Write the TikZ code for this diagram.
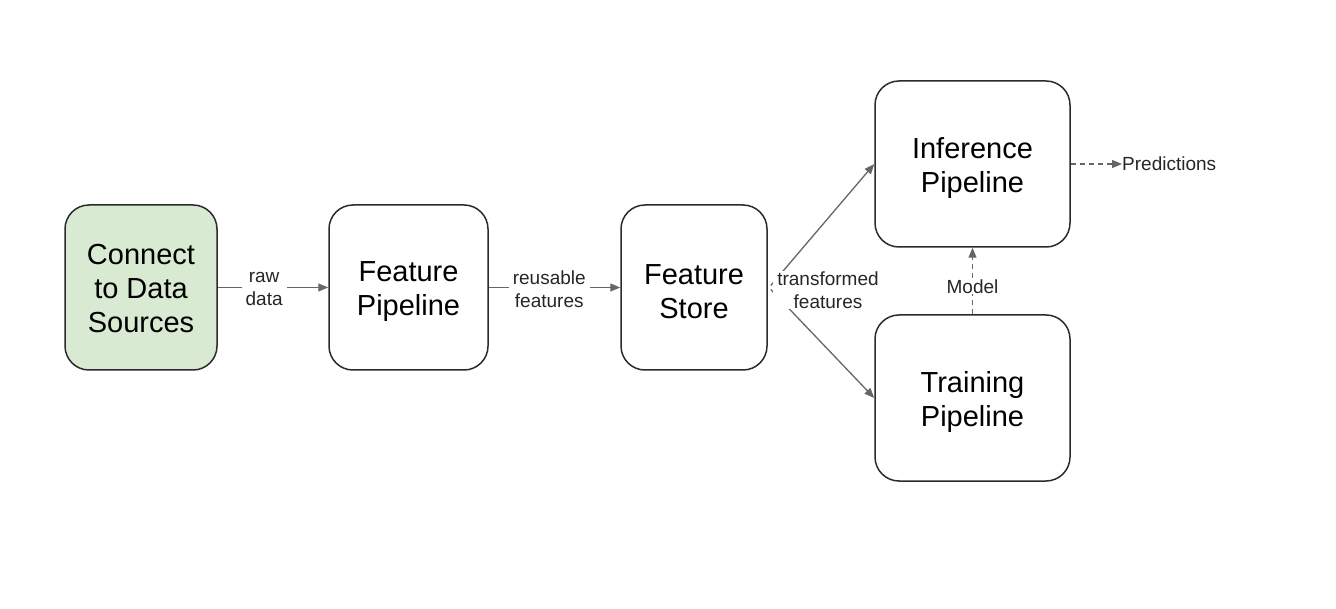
\documentclass[tikz,border=0pt]{standalone}
\usepackage{fontspec}
\setmainfont{Liberation Sans}
\usetikzlibrary{arrows.meta}
\definecolor{boxgreen}{HTML}{D9EAD3}
\definecolor{linegray}{HTML}{666666}
\definecolor{boxborder}{HTML}{2B2B2B}
\newcommand{\toplift}[1]{\rule{0pt}{#1}}
\begin{document}
\begin{tikzpicture}[x=1pt,y=-1pt,
  box/.style={draw=boxborder, line width=1.5pt, rounded corners=24pt, fill=white,
    align=center, font=\fontsize{29}{34}\selectfont, inner sep=0pt},
  lbl/.style={fill=white, align=center, font=\fontsize{19}{23}\selectfont, inner xsep=4pt, inner ysep=1pt, text=black!85},
  conn/.style={draw=linegray, line width=1.3pt, -{Triangle[length=10pt,width=8pt]}},
  dconn/.style={conn, dash pattern=on 5pt off 4pt}]
\useasboundingbox (0,0) rectangle (1336,609);
\node[box, fill=boxgreen, minimum width=152pt, minimum height=165pt] (cds) at (141,287.5) {\toplift{23pt}Connect\\to Data\\Sources};
\node[box, minimum width=159pt, minimum height=165pt] (fp) at (408.5,287.5) {\toplift{28pt}Feature\\Pipeline};
\node[box, minimum width=146pt, minimum height=165pt] (fs) at (694,287.5) {\toplift{28pt}Feature\\Store};
\node[box, minimum width=195pt, minimum height=166pt] (ip) at (972.5,164) {\toplift{30pt}Inference\\Pipeline};
\node[box, minimum width=195pt, minimum height=166pt] (tp) at (972.5,398) {\toplift{29pt}Training\\Pipeline};
\node[anchor=west, font=\fontsize{19}{23}\selectfont, inner sep=0pt, text=black!85] (pred) at (1122,164) {Predictions};

\draw[conn] (cds) -- node[lbl, pos=0.42, yshift=-1.5pt] {raw\\data} (fp);
\draw[conn] (fp) -- node[lbl, pos=0.46, yshift=-1.5pt] {reusable\\features} (fs);
\draw[conn] (fs.east) ++(3,-2) coordinate (fsu) (fsu) -- (ip.west);
\draw[conn] (fs.east) ++(3,2) coordinate (fsl) (fsl) -- (tp.west);
\node[lbl] (tf) at (828,290) {transformed\\features};
\draw[dconn] (tp) -- node[lbl, pos=0.42] {Model} (ip);
\draw[dconn] (ip.east) -- (pred.west);
\end{tikzpicture}
\end{document}
